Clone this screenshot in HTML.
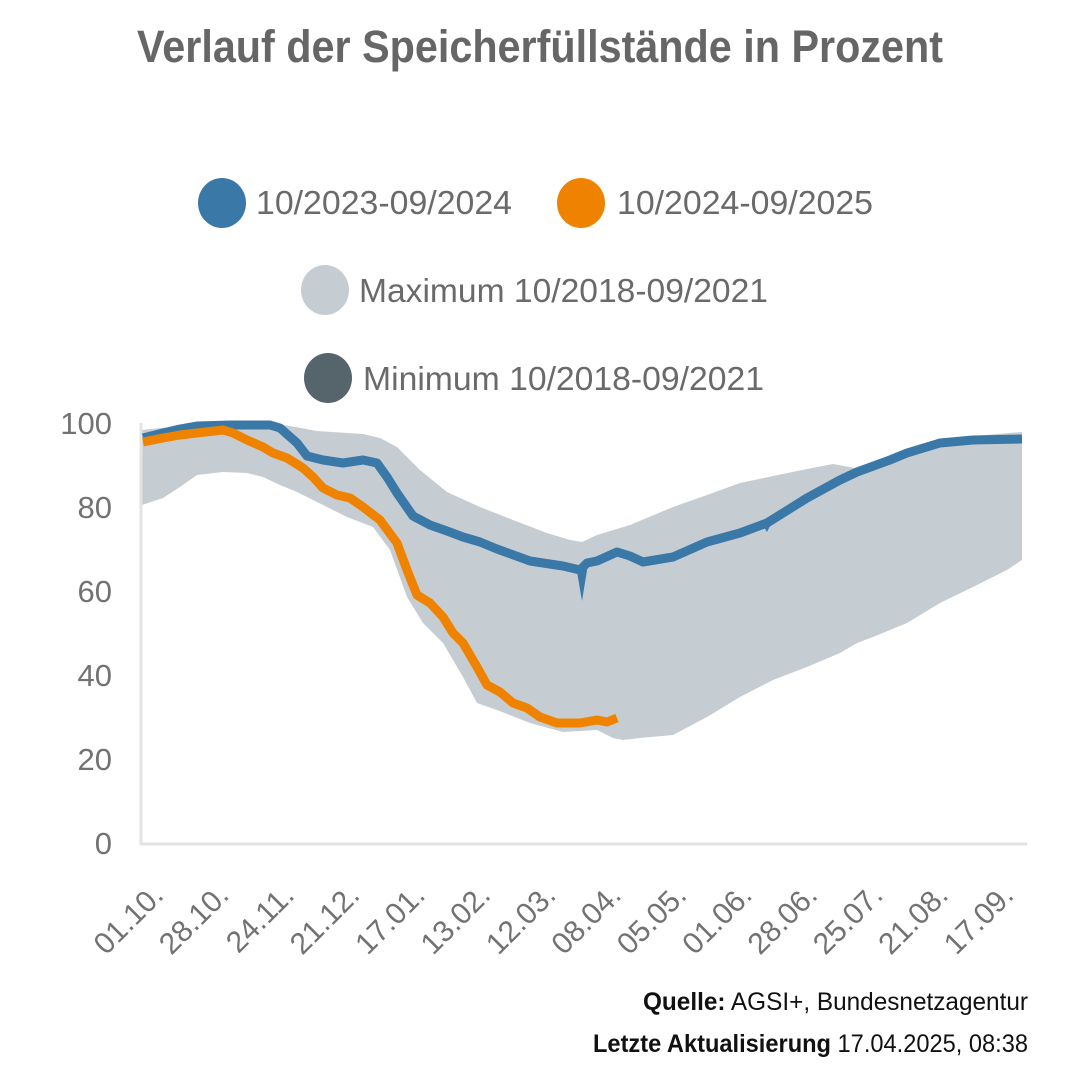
<!DOCTYPE html>
<html>
<head>
<meta charset="utf-8">
<style>
  html, body { margin: 0; padding: 0; background: #ffffff; }
  svg { display: block; }
  text { font-family: "Liberation Sans", "DejaVu Sans", sans-serif; }
</style>
</head>
<body>
<svg width="1080" height="1074" viewBox="0 0 1080 1074" xmlns="http://www.w3.org/2000/svg">
  <rect x="0" y="0" width="1080" height="1074" fill="#ffffff"/>

  <!-- Title -->
  <text x="137" y="62" font-size="45" font-weight="bold" fill="#666666" textLength="806" lengthAdjust="spacingAndGlyphs">Verlauf der Speicherfüllstände in Prozent</text>

  <!-- Legend -->
  <ellipse cx="222" cy="203" rx="24" ry="25" fill="#3a78a8"/>
  <text x="256" y="214" font-size="33" fill="#6a6a6a" textLength="256" lengthAdjust="spacingAndGlyphs">10/2023-09/2024</text>
  <ellipse cx="581" cy="203" rx="24" ry="25" fill="#ef8300"/>
  <text x="617" y="214" font-size="33" fill="#6a6a6a" textLength="256" lengthAdjust="spacingAndGlyphs">10/2024-09/2025</text>
  <ellipse cx="325" cy="290" rx="24" ry="25" fill="#c6cdd2"/>
  <text x="359" y="302" font-size="33" fill="#6a6a6a" textLength="409" lengthAdjust="spacingAndGlyphs">Maximum 10/2018-09/2021</text>
  <ellipse cx="328" cy="378" rx="24" ry="25" fill="#56646c"/>
  <text x="363" y="390" font-size="33" fill="#6a6a6a" textLength="401" lengthAdjust="spacingAndGlyphs">Minimum 10/2018-09/2021</text>

  <!-- Y axis labels -->
  <g font-size="31" fill="#727272" text-anchor="end">
    <text x="112" y="434">100</text>
    <text x="112" y="518">80</text>
    <text x="112" y="602">60</text>
    <text x="112" y="686">40</text>
    <text x="112" y="770">20</text>
    <text x="112" y="854">0</text>
  </g>

  <!-- Band (max/min) -->
  <polygon fill="#c6cdd2" points="
    142,430 170,427 200,424 230,423 270,423 290,426 317,431 363,434 380,438 397,447 420,470 447,492 480,507 513,520 547,533 570,540 582,542 597,535 630,525 673,507 707,495 740,483 773,476 807,469 833,464 850,467 857,469 890,457 907,450 940,440 973,436 1022,432
    1022,560 1007,570 973,587 940,603 907,623 873,637 857,643 840,653 807,667 773,680 740,697 707,717 673,735 640,738 623,740 613,738 597,730 563,732 530,723 497,710 477,703 463,677 443,643 423,623 407,597 390,550 373,527 347,517 313,500 297,492 280,485 263,477 247,473 223,472 197,475 180,487 163,498 142,505"/>

  <!-- Axes -->
  <line x1="141" y1="423" x2="141" y2="845" stroke="#e3e3e3" stroke-width="3"/>
  <line x1="140" y1="844" x2="1027" y2="844" stroke="#e3e3e3" stroke-width="3"/>

  <!-- Blue series 10/2023-09/2024 -->
  <polyline fill="none" stroke="#3a78a8" stroke-width="9" stroke-linejoin="round" stroke-linecap="butt" points="
    143,438 163,433 180,429 197,426 230,425 270,425 280,428 297,443 307,456 323,460 343,463 363,460 377,463 387,477 397,493 413,516 430,525 447,531 463,537 480,542 497,549 530,561 563,566 580,570 587,563 597,561 617,552 630,556 643,562 673,557 707,542 740,533 767,523 807,498 840,480 857,472 890,460 907,453 940,443 973,440 1022,439"/>
  <polygon fill="#3a78a8" points="576,566 588,564 582,601"/>
  <polygon fill="#3a78a8" points="762,524 772,522 767,532"/>

  <!-- Orange series 10/2024-09/2025 -->
  <polyline fill="none" stroke="#ef8300" stroke-width="9" stroke-linejoin="round" stroke-linecap="butt" points="
    143,442 163,438 180,435 197,433 223,430 233,433 247,440 263,447 273,453 287,458 303,468 313,477 323,488 337,495 350,498 363,507 380,520 397,543 407,570 417,595 430,603 443,617 453,633 463,643 477,667 487,685 500,692 513,703 527,708 540,717 557,723 580,723 597,720 607,722 617,718"/>

  <!-- X axis labels -->
  <g font-size="30" fill="#727272" text-anchor="end">
    <text transform="translate(165,897) rotate(-45)">01.10.</text>
    <text transform="translate(230.4,897) rotate(-45)">28.10.</text>
    <text transform="translate(295.8,897) rotate(-45)">24.11.</text>
    <text transform="translate(361.2,897) rotate(-45)">21.12.</text>
    <text transform="translate(426.6,897) rotate(-45)">17.01.</text>
    <text transform="translate(492,897) rotate(-45)">13.02.</text>
    <text transform="translate(557.4,897) rotate(-45)">12.03.</text>
    <text transform="translate(622.8,897) rotate(-45)">08.04.</text>
    <text transform="translate(688.2,897) rotate(-45)">05.05.</text>
    <text transform="translate(753.6,897) rotate(-45)">01.06.</text>
    <text transform="translate(819,897) rotate(-45)">28.06.</text>
    <text transform="translate(884.4,897) rotate(-45)">25.07.</text>
    <text transform="translate(949.8,897) rotate(-45)">21.08.</text>
    <text transform="translate(1015.2,897) rotate(-45)">17.09.</text>
  </g>

  <!-- Footer -->
  <text x="643" y="1010" font-size="25" fill="#111111" textLength="385" lengthAdjust="spacingAndGlyphs"><tspan font-weight="bold">Quelle:</tspan> AGSI+, Bundesnetzagentur</text>
  <text x="593" y="1052" font-size="25" fill="#111111" textLength="435" lengthAdjust="spacingAndGlyphs"><tspan font-weight="bold">Letzte Aktualisierung</tspan> 17.04.2025, 08:38</text>
</svg>
</body>
</html>
